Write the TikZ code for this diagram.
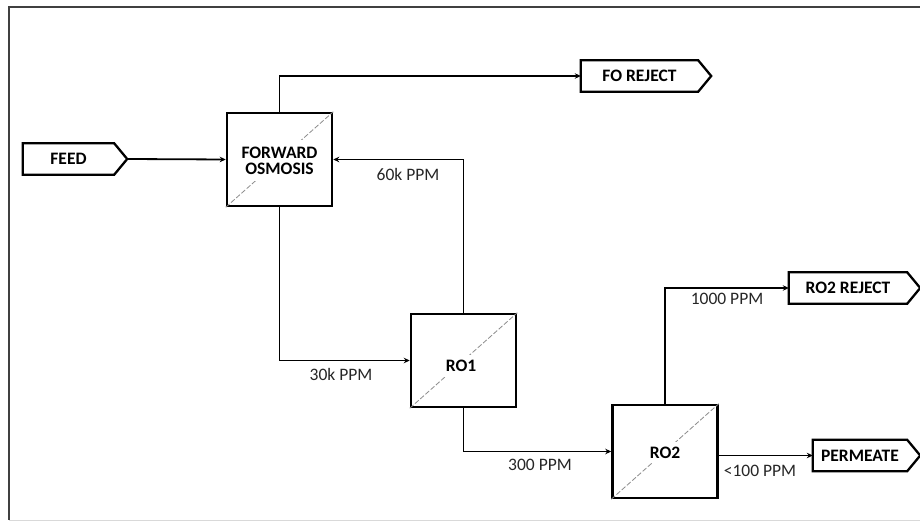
\documentclass[tikz,border=0pt]{standalone}
\usepackage{fontspec}
\setmainfont{Carlito}
\usetikzlibrary{arrows.meta,calc}
\definecolor{framegray}{HTML}{404040}
\definecolor{lightframe}{HTML}{D9D9D9}
\definecolor{diaggray}{HTML}{8C8C8C}
\tikzset{
  unit/.style={draw=black, line width=2.5pt, fill=white, minimum width=105pt, minimum height=93pt, inner sep=0pt},
  unitlabel/.style={fill=white, inner xsep=2pt, inner ysep=5pt, font=\fontsize{17.5}{19}\selectfont\bfseries, align=center},
  diag/.style={draw=diaggray, line width=0.8pt, dash pattern=on 5pt off 2pt},
  tagbox/.style={inner sep=0pt, minimum height=31pt, font=\fontsize{17.5}{19}\selectfont\bfseries},
  tagline/.style={draw=black, line width=2.3pt, line join=miter},
  flow/.style={draw=black, line width=1.8pt, -{Stealth[length=6pt,width=5.5pt]}},
  ppm/.style={font=\fontsize{17.5}{19}\selectfont, text=black!85, inner sep=0pt}
}
\begin{document}
\begin{tikzpicture}[x=1pt,y=-1pt]
\useasboundingbox (0,0) rectangle (920,521);
\fill[white] (0,0) rectangle (920,521);
% frame
\draw[framegray, line width=1.8pt] (920,7) -- (9,7) -- (9,520);
\draw[lightframe, line width=1pt] (9,520) -- (920,520);

% tags (pentagon arrows)
\node[tagbox, minimum width=91pt] (feed) at (68.5,159) {FEED};
\node[tagbox, minimum width=117pt] (forej) at (639.5,76) {FO REJECT};
\node[tagbox, minimum width=118pt] (ro2rej) at (848,288) {RO2 REJECT};
\node[tagbox, minimum width=94pt] (perm) at (860,455.5) {PERMEATE};
\foreach \t in {feed,forej,ro2rej,perm}{
  \draw[tagline] (\t.north west) -- (\t.north east) -- ($(\t.east)+(13,0)$) -- (\t.south east) -- (\t.south west) -- cycle;
}

% units
\node[unit] (fo) at (279.5,159.5) {};
\draw[diag] (fo.south west) -- (fo.north east);
\node[unitlabel, inner ysep=7pt] (folab) at (279.5,160.5) {FORWARD\\[-3pt]OSMOSIS};

\node[unit] (ro1) at (463.5,360.5) {};
\draw[diag] (ro1.south west) -- (ro1.north east);
\node[unitlabel] (ro1lab) at (461,366) {RO1};

\node[unit] (ro2) at (665,451.5) {};
\draw[diag] (ro2.south west) -- (ro2.north east);
\node[unitlabel] (ro2lab) at (665,452.5) {RO2};

% connectors
\draw[flow] ($(feed.east)+(13,0)$) -- (fo.west);
\draw[flow] (fo.north) |- (forej.west);
\draw[flow] (ro1.north) |- (fo.east);
\draw[flow] (fo.south) |- (ro1.west);
\draw[flow] (ro1.south) |- (ro2.west);
\draw[flow] (ro2.north) |- (ro2rej.west);
\draw[flow] (perm.west -| ro2.east) -- (perm.west);

% labels
\node[ppm] (l60) at (408,174) {60k PPM};
\node[ppm] (l30) at (341,374) {30k PPM};
\node[ppm] (l300) at (540,465) {300 PPM};
\node[ppm] (l1000) at (727,299) {1000 PPM};
\node[ppm] (l100) at (760,471) {<100 PPM};
\end{tikzpicture}
\end{document}
